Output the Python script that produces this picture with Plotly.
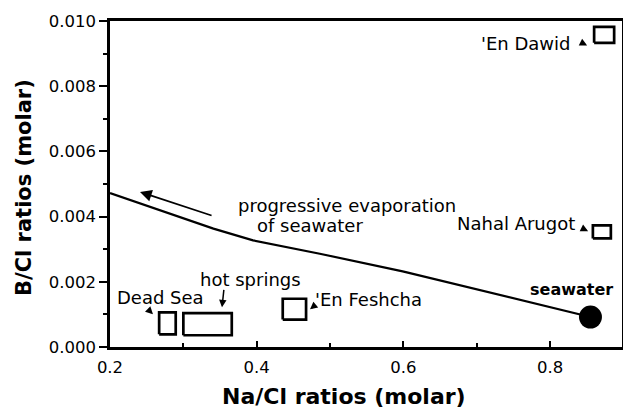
import plotly.graph_objects as go

# Evaporation trajectory of seawater
evap_na = [0.2, 0.341, 0.395, 0.4585, 0.486, 0.599, 0.8, 0.855]
evap_b = [0.00472, 0.00363, 0.00327, 0.00299, 0.00286, 0.00232, 0.00121, 0.00092]

# Seawater point
sea_na = [0.855]
sea_b = [0.00092]

# Sample ranges (boxes)
box_names = ["Dead Sea", "hot springs", "'En Feshcha", "Nahal Arugot", "'En Dawid"]
box_na_min = [0.267, 0.300, 0.4355, 0.8583, 0.860]
box_na_max = [0.2896, 0.366, 0.4673, 0.8828, 0.8873]
box_b_min = [0.00039, 0.00036, 0.00084, 0.00333, 0.00933]
box_b_max = [0.00106, 0.00104, 0.00148, 0.00373, 0.00982]

x_ticks = [0.2, 0.4, 0.6, 0.8]
x_tick_labels = ["0.2", "0.4", "0.6", "0.8"]
y_ticks = [0.000, 0.002, 0.004, 0.006, 0.008, 0.010]
y_tick_labels = ["0.000", "0.002", "0.004", "0.006", "0.008", "0.010"]

FONT = "DejaVu Sans"
L, R, T, B = 110, 1, 21, 64
W, H = 623, 411
PW, PH = W - L - R, H - T - B

fig = go.Figure()

fig.add_trace(go.Scatter(x=evap_na, y=evap_b, mode="lines",
                         line=dict(color="black", width=2.2), hoverinfo="skip"))

for i in range(len(box_names)):
    x0, x1 = box_na_min[i], box_na_max[i]
    y0, y1 = box_b_min[i], box_b_max[i]
    fig.add_trace(go.Scatter(x=[x0, x1, x1, x0, x0], y=[y0, y0, y1, y1, y0],
                             mode="lines", line=dict(color="black", width=2.7),
                             name=box_names[i]))

fig.add_trace(go.Scatter(x=sea_na, y=sea_b, mode="markers",
                         marker=dict(color="black", size=23), name="seawater"))

def label(text, x, y, xanchor="center", size=18, bold=False):
    fig.add_annotation(x=x, y=y, text=text, showarrow=False, xanchor=xanchor,
                       yanchor="middle",
                       font=dict(family=FONT, size=size, color="black",
                                 weight="bold" if bold else "normal"))

def arrow(x, y, ax, ay, head=2, size=1.0, width=1.5):
    fig.add_annotation(x=x, y=y, ax=ax, ay=ay, text="", showarrow=True,
                       arrowhead=head, arrowsize=size, arrowwidth=width,
                       arrowcolor="black")

label("'En Dawid", 0.8314, 0.00932, xanchor="right")
arrow(0.8505, 0.00925, -6, -3)
label("Nahal Arugot", 0.8368, 0.003785, xanchor="right")
arrow(0.8518, 0.00355, -6, -3)
label("seawater", 0.8293, 0.00177, size=16, bold=True)
label("'En Feshcha", 0.4768, 0.001463, xanchor="left")
arrow(0.4727, 0.001156, 6, -5)
label("hot springs", 0.3909, 0.002077)
arrow(0.3527, 0.001217, 2, -19)
label("Dead Sea", 0.2689, 0.001525)
arrow(0.2586, 0.001003, -5, -5)
label("progressive evaporation", 0.5232, 0.004347)
label("of seawater", 0.4727, 0.003733)

# long arrow along the evaporation path
fig.add_annotation(x=0.2409, y=0.004755, ax=0.3405, ay=0.004018,
                   axref="x", ayref="y", xref="x", yref="y",
                   text="", showarrow=True, arrowhead=2, arrowsize=1.3,
                   arrowwidth=1.8, arrowcolor="black")

# axis titles (positions in plot-area paper coordinates)
fig.add_annotation(x=(343.5 - L) / PW, y=(H - B - 396.5) / PH, xref="paper", yref="paper",
                   text="Na/Cl ratios (molar)", showarrow=False, borderpad=0,
                   xanchor="center", yanchor="middle",
                   font=dict(family=FONT, size=22, color="black", weight="bold"))
fig.add_annotation(x=(24 - L) / PW, y=(H - B - 188) / PH, xref="paper", yref="paper",
                   text="B/Cl ratios (molar)",
                   showarrow=False, textangle=-90, xanchor="center", yanchor="middle",
                   font=dict(family=FONT, size=21, color="black", weight="bold"))

fig.update_layout(
    width=W, height=H,
    margin=dict(l=L, r=R, t=T, b=B, autoexpand=False),
    paper_bgcolor="white", plot_bgcolor="white",
    showlegend=False,
    font=dict(family=FONT, size=16, color="black"),
)

fig.update_xaxes(range=[0.2, 0.898], tickvals=x_ticks, ticktext=x_tick_labels,
                 ticks="inside", ticklen=6, tickwidth=2, tickcolor="black",
                 minor=dict(dtick=0.1, tick0=0.2, ticks="inside", ticklen=4,
                            tickwidth=2, tickcolor="black"),
                 showline=True, linewidth=2.5, linecolor="black", mirror=True,
                 showgrid=False, zeroline=False, ticklabelstandoff=3, automargin=False,
                 tickfont=dict(family=FONT, size=16.5, color="black"))
fig.update_yaxes(range=[0, 0.010], tickvals=y_ticks, ticktext=y_tick_labels,
                 ticks="outside", ticklen=8, tickwidth=2, tickcolor="black",
                 minor=dict(dtick=0.001, tick0=0, ticks="outside", ticklen=4,
                            tickwidth=2, tickcolor="black"),
                 showline=True, linewidth=2.5, linecolor="black", mirror=True,
                 showgrid=False, zeroline=False, automargin=False,
                 tickfont=dict(family=FONT, size=16.5, color="black"))

fig.write_html("out.html", config={"displayModeBar": False},
               post_script="document.body.style.margin='0';document.body.style.overflow='hidden';")
